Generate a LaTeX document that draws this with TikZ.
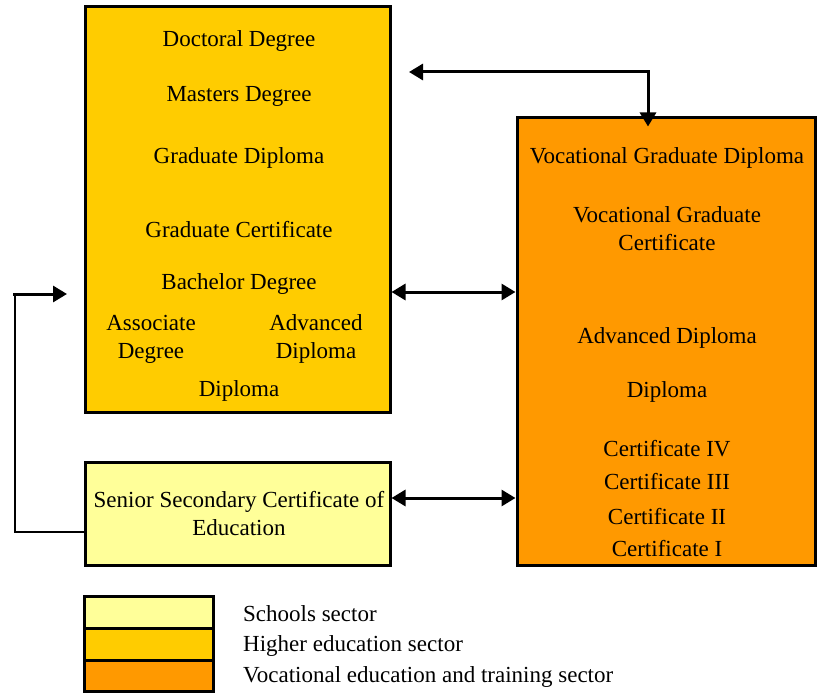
\documentclass[tikz,border=0pt]{standalone}
\usepackage{fontspec}
\setmainfont{Liberation Serif}
\usepackage{tikz}
\usetikzlibrary{arrows.meta, positioning, calc}
\definecolor{schoolcol}{HTML}{FFFF99}
\definecolor{hecol}{HTML}{FFCC00}
\definecolor{vetcol}{HTML}{FF9900}

\begin{document}
\begin{tikzpicture}[x=1pt, y=-1pt,
    box/.style={draw, line width=3pt, inner sep=0pt},
    lbl/.style={font=\fontsize{23}{28}\selectfont, align=center, inner sep=0pt},
    dbl/.style={line width=3pt, {Triangle[length=14pt,width=16pt]}-{Triangle[length=14pt,width=16pt]}}]
    \useasboundingbox (0,0) rectangle (819,695);
    % sector boxes
    \node[box, fill=hecol, minimum width=305pt, minimum height=405pt] (he) at (237.5,209.5) {};
    \node[box, fill=vetcol, minimum width=298pt, minimum height=447pt] (voc) at (666,341.5) {};
    \node[box, fill=schoolcol, minimum width=305pt, minimum height=103pt] (ssce) at (237.5,513.5) {};
    % higher education
    \node[lbl] (doc) at (239,41) {Doctoral Degree};
    \node[lbl] (mas) at (239,96) {Masters Degree};
    \node[lbl] (gdip) at (239,158) {Graduate Diploma};
    \node[lbl] (gcert) at (239,230) {Graduate Certificate};
    \node[lbl] (bach) at (239,284) {Bachelor Degree};
    \node[lbl] (assoc) at (151,339) {Associate\\Degree};
    \node[lbl] (adip) at (316,339) {Advanced\\Diploma};
    \node[lbl] (dip) at (239,391) {Diploma};
    % vocational
    \node[lbl] (vgdip) at (667,158) {Vocational Graduate Diploma};
    \node[lbl] (vgcert) at (667,229) {Vocational Graduate\\Certificate};
    \node[lbl] (vadip) at (667,338) {Advanced Diploma};
    \node[lbl] (vdip) at (667,392) {Diploma};
    \node[lbl] (c4) at (667,449) {Certificate IV};
    \node[lbl] (c3) at (667,482) {Certificate III};
    \node[lbl] (c2) at (667,517) {Certificate II};
    \node[lbl] (c1) at (667,549) {Certificate I};
    % schools
    \node[lbl] (sstext) at (239,514) {Senior Secondary Certificate of\\Education};
    % connectors
    \coordinate (tl) at (409,72);
    \coordinate (tr) at (648,72);
    \coordinate (m1) at (450,292);
    \coordinate (m2) at (450,498);
    \coordinate (lb) at (15,532);
    \coordinate (lt) at (13,294);
    \coordinate (lh) at (67,294);
    \draw[dbl] (tl) -- (tr) -- ([yshift=-10pt]voc.north -| tr);
    \draw[dbl] (he.east |- m1) -- (voc.west |- m1);
    \draw[dbl] (ssce.east |- m2) -- (voc.west |- m2);
    \draw[line width=1.2pt] (ssce.west |- lb) -- (lb) -- (lb |- lt);
    \draw[line width=3pt, -{Triangle[length=14pt,width=16pt]}] (lt) -- (lh);
    % legend
    \node[box, fill=schoolcol, minimum width=129pt, minimum height=32pt] (k1) at (148.5,612) {};
    \node[box, fill=hecol, minimum width=129pt, minimum height=32pt] (k2) at (148.5,644) {};
    \node[box, fill=vetcol, minimum width=129pt, minimum height=31pt] (k3) at (148.5,675.5) {};
    \node[lbl, anchor=west] (t1) at (243,614) {Schools sector};
    \node[lbl, anchor=west] (t2) at (243,646) {Higher education sector};
    \node[lbl, anchor=west] (t3) at (243,677) {Vocational education and training sector};
\end{tikzpicture}
\end{document}
